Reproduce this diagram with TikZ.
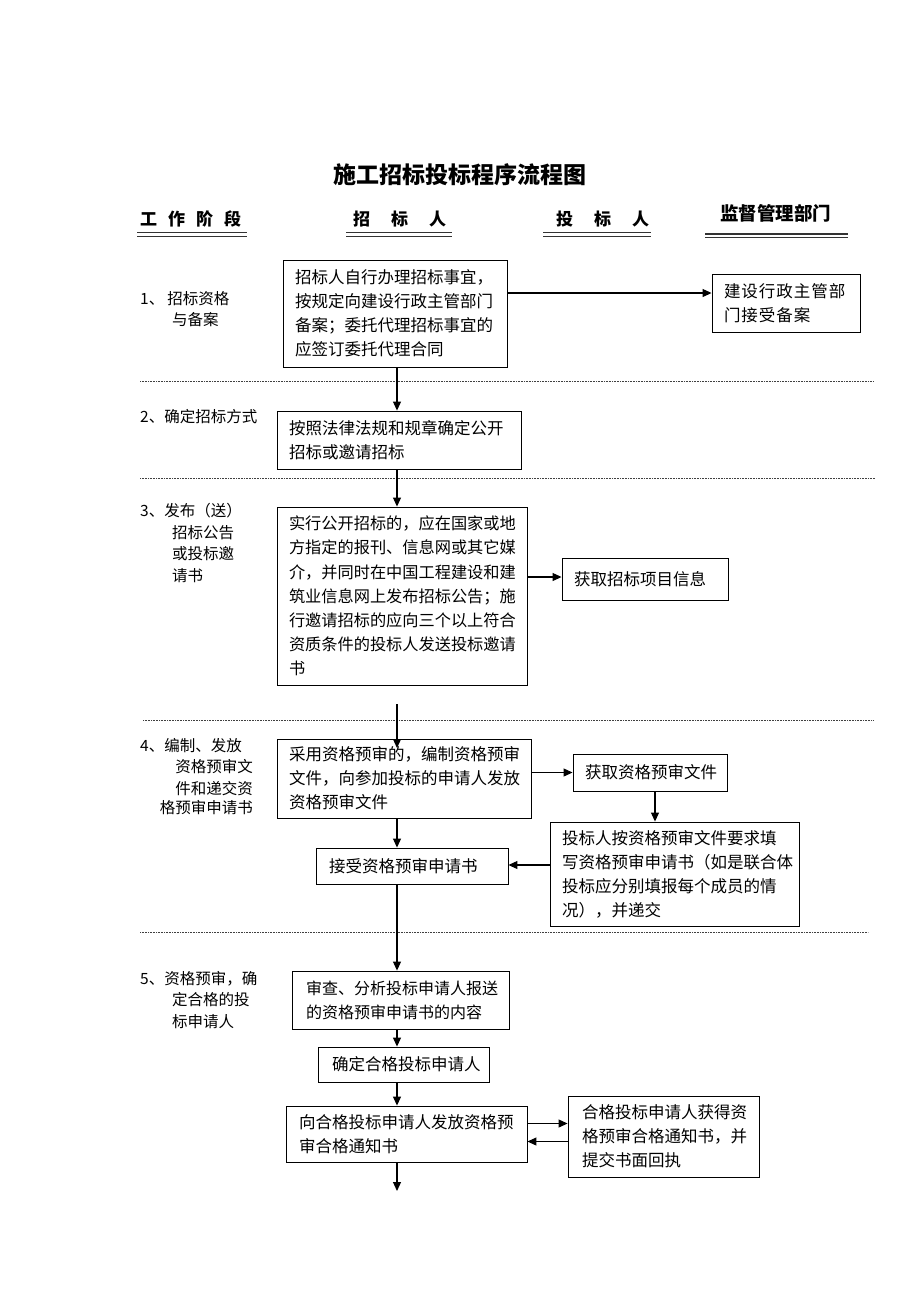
\documentclass[tikz,border=0pt]{standalone}
\usepackage{fontspec}
\setmainfont{Noto Sans CJK SC}
\usetikzlibrary{arrows.meta,calc}
\tikzset{
  box/.style={draw, line width=0.9pt, inner xsep=12pt, inner ysep=0pt, align=left,
    font=\fontsize{16.5}{24}\selectfont},
  lbl/.style={inner sep=0pt, font=\fontsize{15.5}{20}\selectfont},
  hdr/.style={inner sep=0pt, font=\fontsize{17}{20}\selectfont\bfseries},
  arr/.style={line width=1.1pt, -{Triangle[length=9pt,width=8pt]}},
  sepline/.style={line width=0.6pt, dash pattern=on 0.8pt off 0.8pt, black!75},
  ulthick/.style={line width=1.6pt, black!80},
  ulthin/.style={line width=0.8pt, black!80}
}
\begin{document}
\begin{tikzpicture}[x=1pt,y=-1pt]
\useasboundingbox[fill=white] (0,0) rectangle (920,1302);

% title
\node[inner sep=0pt, font=\fontsize{23}{26}\selectfont\bfseries] (title) at (460,175) {施工招标投标程序流程图};

% column headers
\node[hdr, anchor=west] (h1) at (140,219) {工\hspace{11pt}作\hspace{11pt}阶\hspace{11pt}段};
\node[hdr, anchor=west] (h2) at (353,219) {招\hspace{21pt}标\hspace{21pt}人};
\node[hdr, anchor=west] (h3) at (556,219) {投\hspace{21pt}标\hspace{21pt}人};
\node[hdr, anchor=west, font=\fontsize{18.5}{20}\selectfont\bfseries] (h4) at (720,213) {监督管理部门};
\draw[ulthick] (137,232.5) -- (247,232.5);
\draw[ulthin] (137,236) -- (247,236);
\draw[ulthick] (346,232.5) -- (452,232.5);
\draw[ulthin] (346,236) -- (452,236);
\draw[ulthick] (543,232.5) -- (651,232.5);
\draw[ulthin] (543,236) -- (651,236);
\draw[ulthick] (705,234) -- (848,234);
\draw[ulthin] (705,237.5) -- (848,237.5);

% separators
\draw[sepline] (140,381.5) -- (873,381.5);
\draw[sepline] (140,478) -- (875,478);
\draw[sepline] (143,720.5) -- (873,720.5);
\draw[sepline] (140,932.5) -- (868,932.5);

% stage labels
\node[lbl, anchor=west] (l1a) at (140,299) {1、\hspace{3pt}招标资格};
\node[lbl, anchor=west] (l1b) at (172,320) {与备案};
\node[lbl, anchor=west] (l2) at (140,417) {2、确定招标方式};
\node[lbl, anchor=west] (l3a) at (140,511) {3、发布（送）};
\node[lbl, anchor=west] (l3b) at (172,533) {招标公告};
\node[lbl, anchor=west] (l3c) at (172,554) {或投标邀};
\node[lbl, anchor=west] (l3d) at (172,576) {请书};
\node[lbl, anchor=west] (l4a) at (140,746) {4、编制、发放};
\node[lbl, anchor=east] (l4b) at (253,767) {资格预审文};
\node[lbl, anchor=east] (l4c) at (253,789) {件和递交资};
\node[lbl, anchor=east] (l4d) at (253,808) {格预审申请书};
\node[lbl, anchor=west] (l5a) at (140,979) {5、资格预审，确};
\node[lbl, anchor=west] (l5b) at (172,1000) {定合格的投};
\node[lbl, anchor=west] (l5c) at (172,1022) {标申请人};

% boxes
\node[box, minimum width=224pt, minimum height=107pt, text width=200pt] (b1) at (395,313.5)
  {招标人自行办理招标事宜，\\按规定向建设行政主管部门\\备案；委托代理招标事宜的\\应签订委托代理合同};
\node[box, minimum width=148pt, minimum height=58pt, text width=124pt,
  font=\fontsize{16.5}{24}\selectfont\addfontfeature{LetterSpace=6}] (r1) at (786,303)
  {建设行政主管部\\门接受备案};
\node[box, minimum width=244pt, minimum height=58pt, text width=220pt] (b2) at (399,440)
  {按照法律法规和规章确定公开\\招标或邀请招标};
\node[box, minimum width=250pt, minimum height=178pt, text width=226pt,
  font=\fontsize{16.2}{24.2}\selectfont] (b3) at (402,596)
  {实行公开招标的，应在国家或地\\方指定的报刊、信息网或其它媒\\介，并同时在中国工程建设和建\\筑业信息网上发布招标公告；施\\行邀请招标的应向三个以上符合\\资质条件的投标人发送投标邀请\\书};
\node[box, minimum width=166pt, minimum height=42pt, text width=142pt] (info) at (645,579)
  {获取招标项目信息};
\node[box, minimum width=254pt, minimum height=79pt, text width=230pt] (b4) at (404,778.5)
  {采用资格预审的，编制资格预审\\文件，向参加投标的申请人发放\\资格预审文件};
\node[box, minimum width=154pt, minimum height=37pt, text width=130pt] (getdoc) at (650,772.5)
  {获取资格预审文件};
\node[box, minimum width=249pt, minimum height=104pt, text width=225pt] (fill) at (674.5,874)
  {投标人按资格预审文件要求填\\写资格预审申请书（如是联合体\\投标应分别填报每个成员的情\\况），并递交};
\node[box, minimum width=192pt, minimum height=36pt, text width=166pt, inner xsep=13pt] (accept) at (412,866)
  {接受资格预审申请书};
\node[box, minimum width=217pt, minimum height=58pt, text width=189pt, inner xsep=14pt,
  font=\fontsize{16}{24}\selectfont] (b5) at (400.5,1000)
  {审查、分析投标申请人报送\\的资格预审申请书的内容};
\node[box, minimum width=171pt, minimum height=35pt, text width=143pt, inner xsep=14pt] (confirm) at (403.5,1064.5)
  {确定合格投标申请人};
\node[box, minimum width=241pt, minimum height=56pt, text width=215pt, inner xsep=13pt] (notify) at (406.5,1134)
  {向合格投标申请人发放资格预\\审合格通知书};
\node[box, minimum width=191pt, minimum height=81pt, text width=163pt, inner xsep=14pt] (receive) at (663.5,1136.5)
  {合格投标申请人获得资\\格预审合格通知书，并\\提交书面回执};

% helper coordinates
\coordinate (sp) at (397,0);
\coordinate (sp2) at (655,0);
\coordinate (ya) at (0,293);
\coordinate (yb) at (0,577);
\coordinate (yc) at (0,772.5);
\coordinate (yd) at (0,865);
\coordinate (ye) at (0,1123.5);
\coordinate (yf) at (0,1141.5);
\coordinate (s3out) at (397,704);
\coordinate (s4in) at (397,748);
\coordinate (fin) at (397,1191);

% vertical connectors
\draw[arr] (b1.south -| sp) -- (b2.north -| sp);
\draw[arr] (b2.south -| sp) -- (b3.north -| sp);
\draw[arr] (s3out) -- (s4in);
\draw[arr] (b4.south -| sp) -- (accept.north -| sp);
\draw[arr] (accept.south -| sp) -- (b5.north -| sp);
\draw[arr] (b5.south -| sp) -- (confirm.north -| sp);
\draw[arr] (confirm.south -| sp) -- (notify.north -| sp);
\draw[arr] (notify.south -| sp) -- (fin);
\draw[arr] (getdoc.south -| sp2) -- (fill.north -| sp2);

% horizontal connectors
\draw[arr] (b1.east |- ya) -- (r1.west |- ya);
\draw[arr] (b3.east |- yb) -- (info.west |- yb);
\draw[arr] (b4.east |- yc) -- (getdoc.west |- yc);
\draw[arr] (fill.west |- yd) -- (accept.east |- yd);
\draw[arr] (notify.east |- ye) -- (receive.west |- ye);
\draw[arr] (receive.west |- yf) -- (notify.east |- yf);
\end{tikzpicture}
\end{document}
